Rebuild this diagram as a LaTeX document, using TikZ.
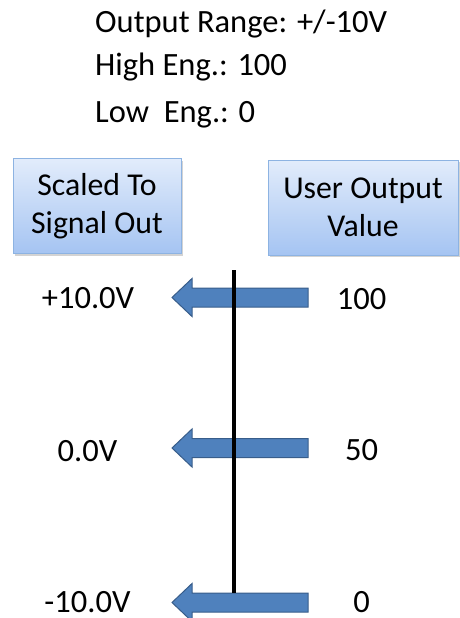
\documentclass[tikz,border=0pt]{standalone}
\usepackage{fontspec}
\setmainfont{Carlito}
\usetikzlibrary{shadows}
\definecolor{arrfill}{HTML}{4F81BD}
\definecolor{arrdraw}{HTML}{385D8A}
\definecolor{boxtop}{HTML}{E2ECFB}
\definecolor{boxbot}{HTML}{A5C4F2}
\definecolor{boxdraw}{HTML}{8DB3E2}
\tikzset{
  infotext/.style={anchor=base west, inner sep=0pt, font=\fontsize{32.5}{38}\selectfont},
  lbl/.style={anchor=center, inner sep=0pt, font=\fontsize{32.5}{38}\selectfont},
  hdrbox/.style={draw=boxdraw, line width=0.8pt, top color=boxtop, bottom color=boxbot,
    align=center, inner sep=0pt, font=\fontsize{31.8}{38}\selectfont,
    drop shadow={shadow xshift=2pt, shadow yshift=-2pt, opacity=0.35}},
  blockarrow/.style={fill=arrfill, draw=arrdraw, line width=1pt, line join=miter},
}
\begin{document}
\begin{tikzpicture}[x=1pt,y=-1pt]
\useasboundingbox (0,0) rectangle (459,618);
\node[infotext] (range) at (95,33) {Output Range: +/-10V};
\node[infotext] (high) at (95,75) {High Eng.: 100};
\node[infotext] (low) at (95,122) {Low\ \ Eng.: 0};
\node[hdrbox, minimum width=168pt, minimum height=95pt] (scaled) at (97,206) {Scaled To\\Signal Out};
\node[hdrbox, minimum width=190pt, minimum height=95pt] (user) at (363,207.5) {User Output\\Value};
\foreach \c/\nm in {297.5/a, 448/b, 602.5/c}{
  \draw[blockarrow] (308,\c-9.5) -- (192,\c-9.5) -- (192,\c-19) -- (172,\c)
     -- (192,\c+19) -- (192,\c+9.5) -- (308,\c+9.5) -- cycle;
}
\coordinate (ltop) at (233.5,270);
\coordinate (lbot) at (233.5,593);
\draw[line width=4pt] (ltop) -- (lbot);
\node[lbl] (v1) at (88,298.5) {+10.0V};
\node[lbl] (v2) at (87.5,451) {0.0V};
\node[lbl] (v3) at (87.5,602.5) {-10.0V};
\node[lbl] (u1) at (361.5,299) {100};
\node[lbl] (u2) at (361.5,450) {50};
\node[lbl] (u3) at (361.5,602.5) {0};
\end{tikzpicture}
\end{document}
